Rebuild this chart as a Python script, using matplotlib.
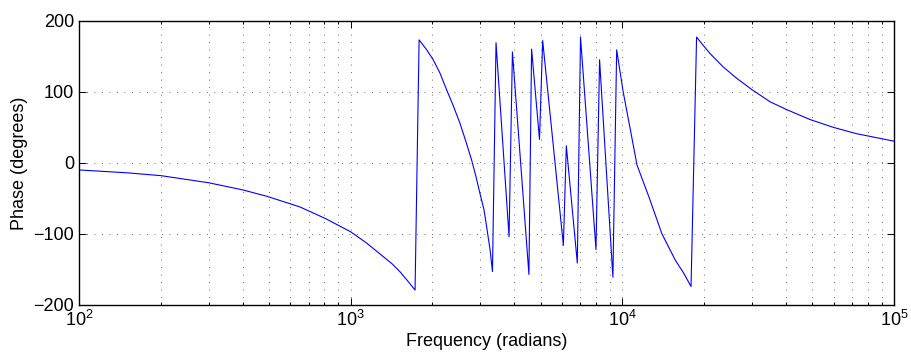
import matplotlib.pyplot as plt
from matplotlib.ticker import LogLocator, NullFormatter

plt.rcParams['font.family'] = ['Liberation Sans', 'DejaVu Sans']
plt.rcParams['mathtext.fontset'] = 'custom'
plt.rcParams['mathtext.rm'] = 'Liberation Sans'
plt.rcParams['mathtext.it'] = 'Liberation Sans:italic'

# frequency (rad) and phase (deg)
freq = [100, 150, 200, 300, 400, 491, 650, 804, 1000, 1146, 1319, 1420, 1517, 1620, 1726,
        1786, 1905, 2013, 2133, 2254, 2388, 2523, 2656, 2787, 2891, 2991, 3096, 3166, 3258, 3326,
        3428, 3828, 3939, 4530, 4634, 4955, 5090, 6066, 6220, 6827,
        7015, 7997, 8245, 9230,
        9530, 10070, 10710, 11320, 12500, 13990, 15670, 16810, 17900,
        18760, 19870, 21000, 23500, 26340, 30000, 34930, 40200, 49000, 59700, 72800, 100000]
phase = [-10, -14, -18, -28, -38, -47, -62, -78, -97, -113, -132, -142, -153, -166, -179,
         173, 159, 145, 126, 103, 80, 56, 30, 4, -19, -43, -66, -90, -122, -153,
         169, -104, 156, -157, 160, 33, 172, -116, 24, -141,
         177, -122, 145, -161,
         159, 100, 46, -3, -47, -100, -137, -155, -174,
         177, 165, 154, 135, 119, 103, 86, 75, 61, 50, 41, 30.5]

fig = plt.figure(figsize=(9.12, 3.63), dpi=100)
ax = fig.add_axes([0.0866, 0.1598, 0.8937, 0.7832])

ax.semilogx(freq, phase, color=(0, 0, 1), linewidth=0.8)

ax.set_xlim(1e2, 1e5)
ax.set_ylim(-200, 200)
ax.set_yticks([-200, -100, 0, 100, 200])
ax.xaxis.set_major_locator(LogLocator(base=10, numticks=10))
ax.xaxis.set_minor_locator(LogLocator(base=10, subs=range(2, 10), numticks=10))
ax.xaxis.set_minor_formatter(NullFormatter())

ax.grid(True, which='major', linestyle=(0, (1, 8)), color='0.25', linewidth=0.6)
ax.grid(True, which='minor', axis='x', linestyle=(0, (1, 8)), color='0.25', linewidth=0.6)

ax.tick_params(which='both', direction='in', top=True, right=True, labelsize=13, width=0.7)
ax.tick_params(which='major', length=5)
ax.tick_params(which='minor', length=2.5)
for s in ax.spines.values():
    s.set_linewidth(1.0)

ax.set_xlabel("Frequency (radians)", fontsize=13, labelpad=2)
ax.set_ylabel("Phase (degrees)", fontsize=13, labelpad=4)

fig.savefig("out.png", dpi=100)
